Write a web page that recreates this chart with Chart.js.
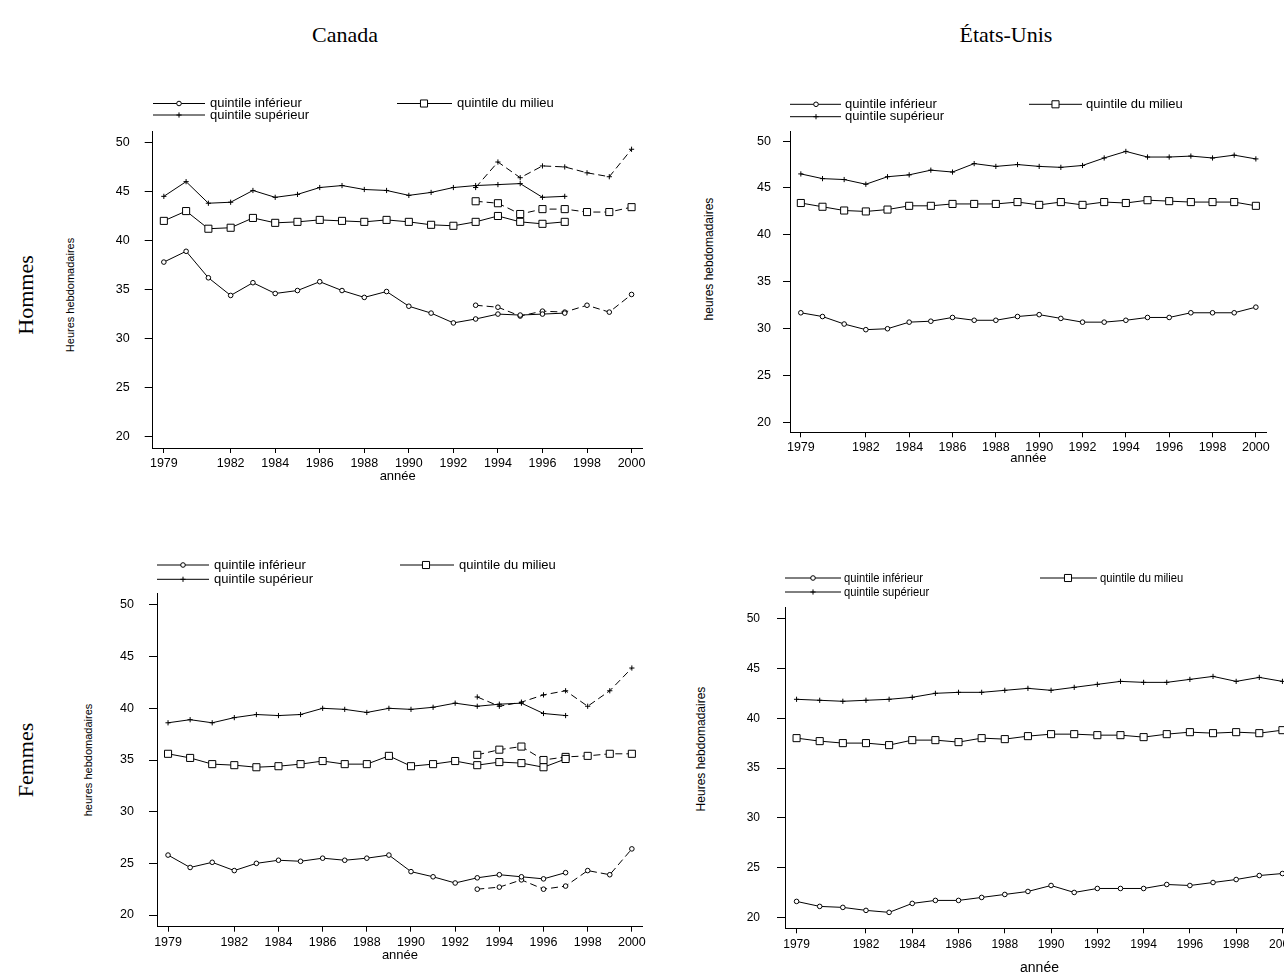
<!DOCTYPE html>
<html>
<head>
<meta charset="utf-8">
<script src="https://cdn.jsdelivr.net/npm/chart.js"></script>
<style>
html, body { margin: 0; padding: 0; background: #fff; overflow: hidden; width: 1284px; height: 972px; }
canvas { position: absolute; }
.big { position: absolute; font-family: "Liberation Serif", "Times New Roman", serif; font-size: 22px; color: #000; white-space: nowrap; transform: translate(-50%, -50%); }
.rot { transform: translate(-50%, -50%) rotate(-90deg); }
.ytl { position: absolute; font-family: "Liberation Sans", Arial, sans-serif; color: #000; white-space: nowrap; line-height: 1; }
</style>
</head>
<body>
<div class="big" id="t0" style="left:345px; top:35px"></div>
<div class="big" id="t1" style="left:1006px; top:35px"></div>
<div class="big rot" id="r0" style="left:26px; top:295px"></div>
<div class="big rot" id="r1" style="left:26px; top:760px"></div>
<canvas id="cH"></canvas>
<canvas id="uH"></canvas>
<canvas id="cF"></canvas>
<canvas id="uF"></canvas>
<script>
// textes
const colTitles = ['Canada', 'États-Unis'];
const rowTitles = ['Hommes', 'Femmes'];
const seriesNames = ['quintile inférieur', 'quintile du milieu', 'quintile supérieur'];
const xTitle = 'année';

// axes
const yearsAll = [1979, 1980, 1981, 1982, 1983, 1984, 1985, 1986, 1987, 1988, 1989, 1990, 1991, 1992, 1993, 1994, 1995, 1996, 1997, 1998, 1999, 2000];
const yearsOld = [1979, 1980, 1981, 1982, 1983, 1984, 1985, 1986, 1987, 1988, 1989, 1990, 1991, 1992, 1993, 1994, 1995, 1996, 1997];
const yearsNew = [1993, 1994, 1995, 1996, 1997, 1998, 1999, 2000];
const xTickYears = [1979, 1982, 1984, 1986, 1988, 1990, 1992, 1994, 1996, 1998, 2000];
const yTickValues = [20, 25, 30, 35, 40, 45, 50];

// Canada, hommes (ancienne serie 1979-1997, nouvelle serie 1993-2000)
const caH_inf_old = [37.8, 38.9, 36.2, 34.4, 35.7, 34.6, 34.9, 35.8, 34.9, 34.2, 34.8, 33.3, 32.6, 31.6, 32.0, 32.5, 32.4, 32.5, 32.6];
const caH_inf_new = [33.4, 33.2, 32.3, 32.8, 32.7, 33.4, 32.7, 34.5];
const caH_mil_old = [42.0, 43.0, 41.2, 41.3, 42.3, 41.8, 41.9, 42.1, 42.0, 41.9, 42.1, 41.9, 41.6, 41.5, 41.9, 42.5, 41.9, 41.7, 41.9];
const caH_mil_new = [44.0, 43.8, 42.7, 43.2, 43.2, 42.9, 42.9, 43.4];
const caH_sup_old = [44.5, 46.0, 43.8, 43.9, 45.1, 44.4, 44.7, 45.4, 45.6, 45.2, 45.1, 44.6, 44.9, 45.4, 45.6, 45.7, 45.8, 44.4, 44.5];
const caH_sup_new = [45.4, 48.0, 46.4, 47.6, 47.5, 46.9, 46.5, 49.3];

// Etats-Unis, hommes
const usH_inf = [31.7, 31.3, 30.5, 29.9, 30.0, 30.7, 30.8, 31.2, 30.9, 30.9, 31.3, 31.5, 31.1, 30.7, 30.7, 30.9, 31.2, 31.2, 31.7, 31.7, 31.7, 32.3];
const usH_mil = [43.4, 43.0, 42.6, 42.5, 42.7, 43.1, 43.1, 43.3, 43.3, 43.3, 43.5, 43.2, 43.5, 43.2, 43.5, 43.4, 43.7, 43.6, 43.5, 43.5, 43.5, 43.1];
const usH_sup = [46.5, 46.0, 45.9, 45.4, 46.2, 46.4, 46.9, 46.7, 47.6, 47.3, 47.5, 47.3, 47.2, 47.4, 48.2, 48.9, 48.3, 48.3, 48.4, 48.2, 48.5, 48.1];

// Canada, femmes
const caF_inf_old = [25.8, 24.6, 25.1, 24.3, 25.0, 25.3, 25.2, 25.5, 25.3, 25.5, 25.8, 24.2, 23.7, 23.1, 23.6, 23.9, 23.7, 23.5, 24.1];
const caF_inf_new = [22.5, 22.7, 23.4, 22.5, 22.8, 24.3, 23.9, 26.4];
const caF_mil_old = [35.6, 35.2, 34.6, 34.5, 34.3, 34.4, 34.6, 34.9, 34.6, 34.6, 35.4, 34.4, 34.6, 34.9, 34.5, 34.8, 34.7, 34.3, 35.1];
const caF_mil_new = [35.5, 36.0, 36.3, 35.0, 35.3, 35.4, 35.6, 35.6];
const caF_sup_old = [38.6, 38.9, 38.6, 39.1, 39.4, 39.3, 39.4, 40.0, 39.9, 39.6, 40.0, 39.9, 40.1, 40.5, 40.2, 40.4, 40.5, 39.5, 39.3];
const caF_sup_new = [41.1, 40.2, 40.6, 41.3, 41.7, 40.2, 41.7, 43.9];

// Etats-Unis, femmes
const usF_inf = [21.6, 21.1, 21.0, 20.7, 20.5, 21.4, 21.7, 21.7, 22.0, 22.3, 22.6, 23.2, 22.5, 22.9, 22.9, 22.9, 23.3, 23.2, 23.5, 23.8, 24.2, 24.4];
const usF_mil = [38.0, 37.7, 37.5, 37.5, 37.3, 37.8, 37.8, 37.6, 38.0, 37.9, 38.2, 38.4, 38.4, 38.3, 38.3, 38.1, 38.4, 38.6, 38.5, 38.6, 38.5, 38.8];
const usF_sup = [41.9, 41.8, 41.7, 41.8, 41.9, 42.1, 42.5, 42.6, 42.6, 42.8, 43.0, 42.8, 43.1, 43.4, 43.7, 43.6, 43.6, 43.9, 44.2, 43.7, 44.1, 43.7];

document.getElementById('t0').textContent = colTitles[0];
document.getElementById('t1').textContent = colTitles[1];
document.getElementById('r0').textContent = rowTitles[0];
document.getElementById('r1').textContent = rowTitles[1];

// styles des marqueurs : inferieur, milieu, superieur
const markerStyles = ['circle', 'rect', 'cross'];
const markerRadii = [2.3, 5, 2.6];
const SANS = '"Liberation Sans", Arial, sans-serif';

function ds(yrs, vals, s, dashed) {
  return {
    data: yrs.map((x, i) => ({ x: x, y: vals[i] })),
    borderColor: '#000', borderWidth: 1, borderDash: dashed ? [7, 4] : [],
    pointStyle: markerStyles[s], pointRadius: markerRadii[s],
    pointBorderColor: '#000', pointBackgroundColor: '#fff', pointBorderWidth: 1,
    tension: 0, fill: false, clip: false
  };
}

function legendPlugin(P) {
  return {
    id: 'quintLegend',
    afterDraw(chart) {
      const ctx = chart.ctx;
      const L = P.legend;
      const items = [{ col: 0, row: 0, s: 0 }, { col: 1, row: 0, s: 1 }, { col: 0, row: 1, s: 2 }];
      ctx.save();
      items.forEach(it => {
        const x0 = L.x[it.col] - P.left;
        const x1 = x0 + L.lineW[it.col];
        const y = L.rows[it.row] - P.top;
        ctx.strokeStyle = '#000';
        ctx.lineWidth = 1;
        ctx.setLineDash([]);
        ctx.beginPath();
        ctx.moveTo(x0, y);
        ctx.lineTo(x1, y);
        ctx.stroke();
        ctx.fillStyle = '#fff';
        Chart.helpers.drawPoint(ctx, { pointStyle: markerStyles[it.s], radius: markerRadii[it.s], rotation: 0, borderWidth: 1 }, L.mark[it.col] - P.left, y);
        // texte (eventuellement condense)
        ctx.save();
        ctx.translate(x1 + L.gap, y);
        ctx.scale(L.squeeze || 1, 1);
        ctx.fillStyle = '#000';
        ctx.font = L.fontSize + 'px ' + SANS;
        ctx.textAlign = 'left';
        ctx.textBaseline = 'middle';
        ctx.fillText(seriesNames[it.s], 0, 0);
        ctx.restore();
      });
      ctx.restore();
    }
  };
}

function makePanel(P) {
  const cv = document.getElementById(P.id);
  cv.width = P.width;
  cv.height = P.height;
  cv.style.left = P.left + 'px';
  cv.style.top = P.top + 'px';

  // titre vertical de l'axe y
  const yt = document.createElement('div');
  yt.className = 'ytl rot';
  yt.style.left = P.yTitleX + 'px';
  yt.style.top = P.yTitleY + 'px';
  yt.style.fontSize = P.yTitleSize + 'px';
  yt.textContent = P.yTitle;
  document.body.appendChild(yt);

  const xLH = P.xTitleSize * 1.2;
  const xScaleBottom = P.xTitleY + xLH / 2;
  new Chart(cv, {
    type: 'line',
    data: { datasets: P.datasets },
    options: {
      responsive: false, animation: false, events: [],
      layout: { padding: {
        left: 0,
        top: P.area.t - P.top,
        right: P.left + P.width - P.area.r,
        bottom: P.top + P.height - xScaleBottom
      } },
      plugins: { legend: { display: false }, tooltip: { enabled: false } },
      scales: {
        x: {
          type: 'linear', position: 'bottom', min: 1978.5, max: 2000.5,
          afterBuildTicks: s => { s.ticks = xTickYears.map(v => ({ value: v })); },
          afterFit: s => { s.height = xScaleBottom - P.area.b; },
          grid: { display: true, drawOnChartArea: false, drawTicks: true, tickLength: 5, color: '#000', lineWidth: 1 },
          border: { display: true, color: '#000', width: 1 },
          ticks: { color: '#000', font: { family: SANS, size: P.tickSize }, padding: P.xPad, maxRotation: 0, autoSkip: false, callback: v => String(v) },
          title: { display: true, text: xTitle, color: '#000', font: { family: SANS, size: P.xTitleSize }, padding: 0 }
        },
        y: {
          type: 'linear', position: 'left', min: P.yr[0], max: P.yr[1],
          afterBuildTicks: s => { s.ticks = yTickValues.map(v => ({ value: v })); },
          afterFit: s => { s.width = P.area.l - P.left; },
          grid: { display: true, drawOnChartArea: false, drawTicks: true, tickLength: P.yTickLen, color: '#000', lineWidth: 1 },
          border: { display: true, color: '#000', width: 1 },
          ticks: { color: '#000', font: { family: SANS, size: P.tickSize }, padding: P.yPad, autoSkip: false, callback: v => String(v) },
          title: { display: false }
        }
      }
    },
    plugins: [legendPlugin(P)]
  });
}

makePanel({
  id: 'cH', left: 90, top: 85, width: 568, height: 410,
  area: { l: 152.7, t: 131.7, r: 642.7, b: 448 }, yr: [18.85, 51.09],
  tickSize: 12.5, xPad: 3, yPad: 15, yTickLen: 8,
  yTitle: 'Heures hebdomadaires', yTitleX: 70, yTitleY: 295, yTitleSize: 11,
  xTitleY: 476, xTitleSize: 13,
  legend: { x: [153, 397], lineW: [52, 55], mark: [179, 424], rows: [103.5, 115], gap: 5, fontSize: 13 },
  datasets: [
    ds(yearsOld, caH_inf_old, 0, false), ds(yearsOld, caH_mil_old, 1, false), ds(yearsOld, caH_sup_old, 2, false),
    ds(yearsNew, caH_inf_new, 0, true), ds(yearsNew, caH_mil_new, 1, true), ds(yearsNew, caH_sup_new, 2, true)
  ]
});

makePanel({
  id: 'uH', left: 730, top: 85, width: 552, height: 385,
  area: { l: 790, t: 131.7, r: 1266.7, b: 432.3 }, yr: [18.96, 51.0],
  tickSize: 12.5, xPad: 3, yPad: 12, yTickLen: 7,
  yTitle: 'heures hebdomadaires', yTitleX: 709, yTitleY: 259, yTitleSize: 12,
  xTitleY: 458, xTitleSize: 13,
  legend: { x: [790, 1029], lineW: [51, 53], mark: [816, 1055.5], rows: [104.3, 116.7], gap: 4, fontSize: 13 },
  datasets: [ds(yearsAll, usH_inf, 0, false), ds(yearsAll, usH_mil, 1, false), ds(yearsAll, usH_sup, 2, false)]
});

makePanel({
  id: 'cF', left: 100, top: 550, width: 558, height: 420,
  area: { l: 157, t: 593.3, r: 642.9, b: 926.7 }, yr: [18.87, 51.13],
  tickSize: 12.5, xPad: 3, yPad: 15, yTickLen: 8,
  yTitle: 'heures hebdomadaires', yTitleX: 88, yTitleY: 760, yTitleSize: 11,
  xTitleY: 955, xTitleSize: 13,
  legend: { x: [157, 400], lineW: [52, 54], mark: [183, 426], rows: [565, 579.3], gap: 5, fontSize: 13 },
  datasets: [
    ds(yearsOld, caF_inf_old, 0, false), ds(yearsOld, caF_mil_old, 1, false), ds(yearsOld, caF_sup_old, 2, false),
    ds(yearsNew, caF_inf_new, 0, true), ds(yearsNew, caF_mil_new, 1, true), ds(yearsNew, caF_sup_new, 2, true)
  ]
});

makePanel({
  id: 'uF', left: 720, top: 560, width: 589, height: 420,
  area: { l: 785, t: 607.7, r: 1294, b: 928.3 }, yr: [18.9, 51.1],
  tickSize: 12, xPad: 4, yPad: 17, yTickLen: 8,
  yTitle: 'Heures hebdomadaires', yTitleX: 701, yTitleY: 749, yTitleSize: 12,
  xTitleY: 968, xTitleSize: 14,
  legend: { x: [785, 1040], lineW: [56, 57], mark: [813, 1068], rows: [578, 592], gap: 3, fontSize: 13, squeeze: 0.86 },
  datasets: [ds(yearsAll, usF_inf, 0, false), ds(yearsAll, usF_mil, 1, false), ds(yearsAll, usF_sup, 2, false)]
});
</script>
</body>
</html>
